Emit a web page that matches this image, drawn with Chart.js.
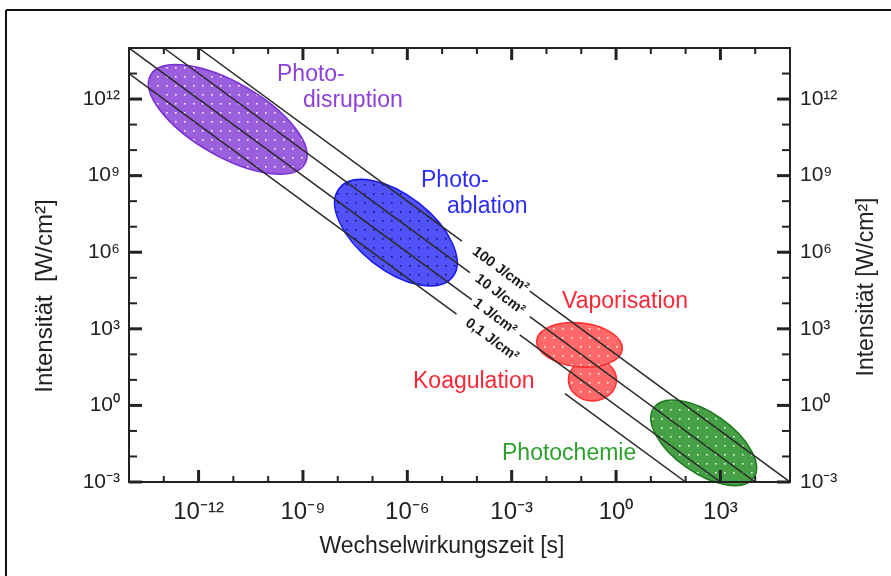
<!DOCTYPE html>
<html>
<head>
<meta charset="utf-8">
<script src="https://cdn.jsdelivr.net/npm/chart.js@4.4.1/dist/chart.umd.min.js"></script>
<style>
    html, body { margin: 0; padding: 0; background: #fff; }
    #chart { display: block; }
</style>
</head>
<body>
<canvas id="chart" width="891" height="576"></canvas>
<script>
// decades shown on the axes
const timeExponents = [-14, -13, -12, -11, -10, -9, -8, -7, -6, -5, -4, -3, -2, -1, 0, 1, 2, 3, 4, 5];
const intensityExponents = [-3, -2, -1, 0, 1, 2, 3, 4, 5, 6, 7, 8, 9, 10, 11, 12, 13, 14];

// lines of constant fluence, [time s, intensity W/cm2], broken where the label sits
const fluenceNames = ['100 J/cm²', '10 J/cm²', '1 J/cm²', '0,1 J/cm²'];
const fluenceLines = [
    [[[1e-12, 1e14], [3.7e-5, 2.7e6]], [[3.3e-3, 3.0e4], [1e5, 1e-3]]],
    [[[1e-13, 1e14], [6.3e-5, 1.6e5]], [[3.3e-3, 3.0e3], [1e4, 1e-3]]],
    [[[1e-14, 1e14], [7.1e-5, 1.4e4]], [[1.7e-3, 5.8e2], [1e3, 1e-3]]],
    [[[1e-14, 1e13], [2.6e-5, 3.8e3]], [[3.4e-2, 2.9], [1e2, 1e-3]]]
];
// where each fluence label is placed on its line
const fluenceLabelTime = [4.8e-4, 4.6e-4, 3.3e-4, 2.7e-4];
const fluenceLabelIntensity = [2.1e5, 2.2e4, 3.0e3, 370];

// interaction regions (centre time s, centre intensity W/cm2)
const regionNames = ['Photodisruption', 'Photoablation', 'Koagulation', 'Vaporisation', 'Photochemie'];
const regionTime = [6.9e-12, 4.7e-7, 0.21, 0.089, 331];
const regionIntensity = [1.6e11, 5.8e6, 10, 234, 0.034];

// ellipse look per region: semi axes px, tilt deg, colours
const regionStyle = [
    { a: 89, b: 37, tilt: 30, fill: 'rgb(155,95,222)', border: 'rgb(120,45,210)', dot: 'rgba(255,255,255,0.9)' },
    { a: 72, b: 37.5, tilt: 38, fill: 'rgb(82,82,250)', border: 'rgb(25,25,235)', dot: 'rgba(15,15,110,0.9)' },
    { a: 24, b: 21, tilt: 0, fill: 'rgb(255,105,105)', border: 'rgb(255,45,45)', dot: 'rgba(255,255,255,0.9)' },
    { a: 43, b: 22, tilt: 6, fill: 'rgb(255,105,105)', border: 'rgb(255,45,45)', dot: 'rgba(255,255,255,0.9)' },
    { a: 61, b: 30, tilt: 35, fill: 'rgb(70,160,70)', border: 'rgb(30,120,30)', dot: 'rgba(255,255,255,0.85)' }
];

// text labels of the regions: [text, x, baseline y, colour]
const regionLabels = [
    ['Photo-', 277, 81, 'rgb(140,65,220)'],
    ['disruption', 303, 107, 'rgb(140,65,220)'],
    ['Photo-', 421, 187, 'rgb(45,45,245)'],
    ['ablation', 447, 213, 'rgb(45,45,245)'],
    ['Vaporisation', 562, 308, 'rgb(250,40,55)'],
    ['Koagulation', 413, 388, 'rgb(250,40,55)'],
    ['Photochemie', 502, 460, 'rgb(45,160,45)']
];

const FONT = "'Liberation Sans', Arial, sans-serif";
const SUP = { '-': '⁻', '0': '⁰', '1': '¹', '2': '²', '3': '³', '4': '⁴', '5': '⁵', '6': '⁶', '7': '⁷', '8': '⁸', '9': '⁹' };

function powerLabel(value) {
    const e = Math.round(Math.log10(value));
    if (e % 3 !== 0) return '';
    return '10' + String(e).split('').map(c => SUP[c]).join('');
}

function dotPattern(ctx, color) {
    const c = document.createElement('canvas');
    c.width = 9;
    c.height = 9;
    const g = c.getContext('2d');
    g.fillStyle = color;
    g.fillRect(4, 4, 1.6, 1.6);
    return ctx.createPattern(c, 'repeat');
}

let datasets = fluenceLines.map(function (pieces, i) {
    let pts = [];
    pieces.forEach(function (piece, k) {
        if (k > 0) pts.push({ x: piece[0][0], y: null });
        piece.forEach(p => pts.push({ x: p[0], y: p[1] }));
    });
    return {
        label: fluenceNames[i],
        data: pts,
        showLine: true,
        borderColor: '#2a2a2a',
        borderWidth: 1.5,
        pointRadius: 0,
        spanGaps: false
    };
});

function decadeTicks(exps) {
    return function (scale) {
        scale.ticks = exps.map(e => ({ value: Math.pow(10, e) }));
    };
}

const regionsPlugin = {
    id: 'regions',
    beforeDatasetsDraw(chart) {
        const { ctx, scales } = chart;
        ctx.save();
        regionTime.forEach(function (t, i) {
            const s = regionStyle[i];
            const cx = scales.x.getPixelForValue(t);
            const cy = scales.y.getPixelForValue(regionIntensity[i]);
            ctx.beginPath();
            ctx.ellipse(cx, cy, s.a, s.b, s.tilt * Math.PI / 180, 0, Math.PI * 2);
            ctx.fillStyle = s.fill;
            ctx.fill();
            ctx.fillStyle = dotPattern(ctx, s.dot);
            ctx.fill();
            ctx.lineWidth = 1.5;
            ctx.strokeStyle = s.border;
            ctx.stroke();
        });
        ctx.restore();
    },
    afterDatasetsDraw(chart) {
        const { ctx, scales } = chart;
        ctx.save();
        // fluence labels along the lines
        const dx = scales.x.getPixelForValue(10) - scales.x.getPixelForValue(1);
        const dy = scales.y.getPixelForValue(1) - scales.y.getPixelForValue(10);
        const angle = Math.atan2(dy, dx);
        ctx.fillStyle = '#1a1a1a';
        ctx.font = 'bold 14.5px ' + FONT;
        ctx.textAlign = 'center';
        ctx.textBaseline = 'middle';
        fluenceNames.forEach(function (name, i) {
            ctx.save();
            ctx.translate(scales.x.getPixelForValue(fluenceLabelTime[i]), scales.y.getPixelForValue(fluenceLabelIntensity[i]));
            ctx.rotate(angle);
            ctx.fillText(name, 0, 0);
            ctx.restore();
        });
        // region names
        ctx.font = '23px ' + FONT;
        ctx.textAlign = 'left';
        ctx.textBaseline = 'alphabetic';
        regionLabels.forEach(function (l) {
            ctx.fillStyle = l[3];
            ctx.fillText(l[0], l[1], l[2]);
        });
        ctx.restore();
    },
    afterDraw(chart) {
        const { ctx, chartArea: a, scales } = chart;
        ctx.save();
        ctx.strokeStyle = '#222';
        function seg(x1, y1, x2, y2) {
            ctx.beginPath();
            ctx.moveTo(x1, y1);
            ctx.lineTo(x2, y2);
            ctx.stroke();
        }
        // plot frame
        ctx.lineWidth = 2;
        ctx.strokeRect(a.left, a.top, a.right - a.left, a.bottom - a.top);
        // inward ticks
        scales.x.ticks.forEach(function (t) {
            const major = Math.round(Math.log10(t.value)) % 3 === 0;
            const px = scales.x.getPixelForValue(t.value);
            const len = major ? 12 : 6;
            ctx.lineWidth = major ? 3 : 2;
            seg(px, a.bottom, px, a.bottom - len);
            seg(px, a.top, px, a.top + len);
        });
        scales.y.ticks.forEach(function (t) {
            const major = Math.round(Math.log10(t.value)) % 3 === 0;
            const py = scales.y.getPixelForValue(t.value);
            const len = major ? 13 : 8;
            ctx.lineWidth = major ? 3 : 2;
            seg(a.left, py, a.left + len, py);
            seg(a.right, py, a.right - len, py);
        });
        // outer frame of the figure
        ctx.strokeStyle = '#111';
        ctx.lineWidth = 2;
        seg(6, 600, 6, 10);
        seg(6, 10, 900, 10);
        // axis titles
        ctx.fillStyle = '#222';
        ctx.textAlign = 'center';
        ctx.textBaseline = 'middle';
        ctx.font = '23px ' + FONT;
        ctx.fillText('Wechselwirkungszeit [s]', 442, 547);
        ctx.save();
        ctx.translate(45, 296);
        ctx.rotate(-Math.PI / 2);
        ctx.font = '24px ' + FONT;
        ctx.fillText('Intensität  [W/cm²]', 0, 0);
        ctx.restore();
        ctx.save();
        ctx.translate(867, 287);
        ctx.rotate(-Math.PI / 2);
        ctx.fillText('Intensität [W/cm²]', 0, 0);
        ctx.restore();
        ctx.restore();
    }
};

const tickFont = { family: FONT, size: 21 };

new Chart(document.getElementById('chart'), {
    type: 'scatter',
    data: { datasets: datasets },
    options: {
        responsive: false,
        animation: false,
        devicePixelRatio: 1,
        layout: { padding: { top: 48, left: 0, right: 0, bottom: 0 } },
        plugins: { legend: { display: false }, tooltip: { enabled: false } },
        scales: {
            x: {
                type: 'logarithmic',
                position: 'bottom',
                min: 1e-14,
                max: 1e5,
                afterBuildTicks: decadeTicks(timeExponents),
                afterFit: s => { s.height = 94; },
                grid: { display: false, drawTicks: false },
                border: { display: false },
                ticks: { autoSkip: false, maxRotation: 0, padding: 16, color: '#222', font: { family: FONT, size: 24 }, callback: powerLabel }
            },
            y: {
                type: 'logarithmic',
                position: 'left',
                min: 1e-3,
                max: 1e14,
                afterBuildTicks: decadeTicks(intensityExponents),
                afterFit: s => { s.width = 129; },
                grid: { display: false, drawTicks: false },
                border: { display: false },
                ticks: { autoSkip: false, padding: 9, color: '#222', font: tickFont, callback: powerLabel }
            },
            y2: {
                type: 'logarithmic',
                position: 'right',
                min: 1e-3,
                max: 1e14,
                afterBuildTicks: decadeTicks(intensityExponents),
                afterFit: s => { s.width = 101; },
                grid: { display: false, drawTicks: false },
                border: { display: false },
                ticks: { autoSkip: false, padding: 10, color: '#222', font: tickFont, callback: powerLabel }
            }
        }
    },
    plugins: [regionsPlugin]
});
</script>
</body>
</html>
